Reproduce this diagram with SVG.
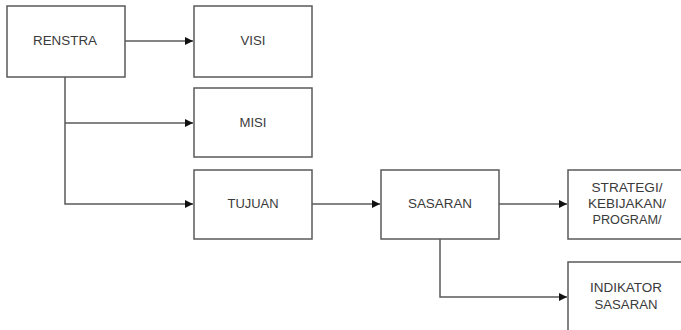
<svg xmlns="http://www.w3.org/2000/svg" width="681" height="330" viewBox="0 0 681 330">
<style>
.box{fill:#fff;stroke:#5a5a5a;stroke-width:1.5}
.lbl{font-family:"Liberation Sans",Arial,sans-serif;font-size:12px;fill:#3a3a3a;text-anchor:middle}
.con{fill:none;stroke:#5a5a5a;stroke-width:1.5}
</style>
<defs>
<marker id="arr" viewBox="0 0 10 10" refX="10" refY="5" markerWidth="8" markerHeight="8" markerUnits="userSpaceOnUse" orient="auto">
<path d="M0,0 L10,5 L0,10 z" fill="#111"/>
</marker>
</defs>
<rect width="681" height="330" fill="#fff"/>
<g id="connectors">
<path class="con" d="M125,41 H193" marker-end="url(#arr)"/>
<path class="con" d="M65,77 V204 H193" marker-end="url(#arr)"/>
<path class="con" d="M65,123 H193" marker-end="url(#arr)"/>
<path class="con" d="M312,204 H380" marker-end="url(#arr)"/>
<path class="con" d="M499,204 H567" marker-end="url(#arr)"/>
<path class="con" d="M440,239 V297 H567" marker-end="url(#arr)"/>
</g>
<g id="renstra"><rect class="box" x="7" y="6" width="118" height="71"/><text class="lbl" x="65" y="45" textLength="64" lengthAdjust="spacingAndGlyphs">RENSTRA</text></g>
<g id="visi"><rect class="box" x="194" y="6" width="118" height="71"/><text class="lbl" x="253" y="45" textLength="25" lengthAdjust="spacingAndGlyphs">VISI</text></g>
<g id="misi"><rect class="box" x="194" y="88" width="118" height="69"/><text class="lbl" x="253" y="127" textLength="27" lengthAdjust="spacingAndGlyphs">MISI</text></g>
<g id="tujuan"><rect class="box" x="194" y="170" width="118" height="69"/><text class="lbl" x="253" y="208" textLength="51" lengthAdjust="spacingAndGlyphs">TUJUAN</text></g>
<g id="sasaran"><rect class="box" x="381" y="170" width="118" height="69"/><text class="lbl" x="440" y="208" textLength="64" lengthAdjust="spacingAndGlyphs">SASARAN</text></g>
<g id="strategi"><rect class="box" x="568" y="170" width="118" height="69"/>
<text class="lbl" x="627" y="192" textLength="71" lengthAdjust="spacingAndGlyphs">STRATEGI/</text>
<text class="lbl" x="627" y="208" textLength="78" lengthAdjust="spacingAndGlyphs">KEBIJAKAN/</text>
<text class="lbl" x="627" y="224" textLength="69" lengthAdjust="spacingAndGlyphs">PROGRAM/</text></g>
<g id="indikator"><rect class="box" x="568" y="262" width="118" height="70"/>
<text class="lbl" x="626" y="292" textLength="72" lengthAdjust="spacingAndGlyphs">INDIKATOR</text>
<text class="lbl" x="626" y="309" textLength="63" lengthAdjust="spacingAndGlyphs">SASARAN</text></g>
</svg>
